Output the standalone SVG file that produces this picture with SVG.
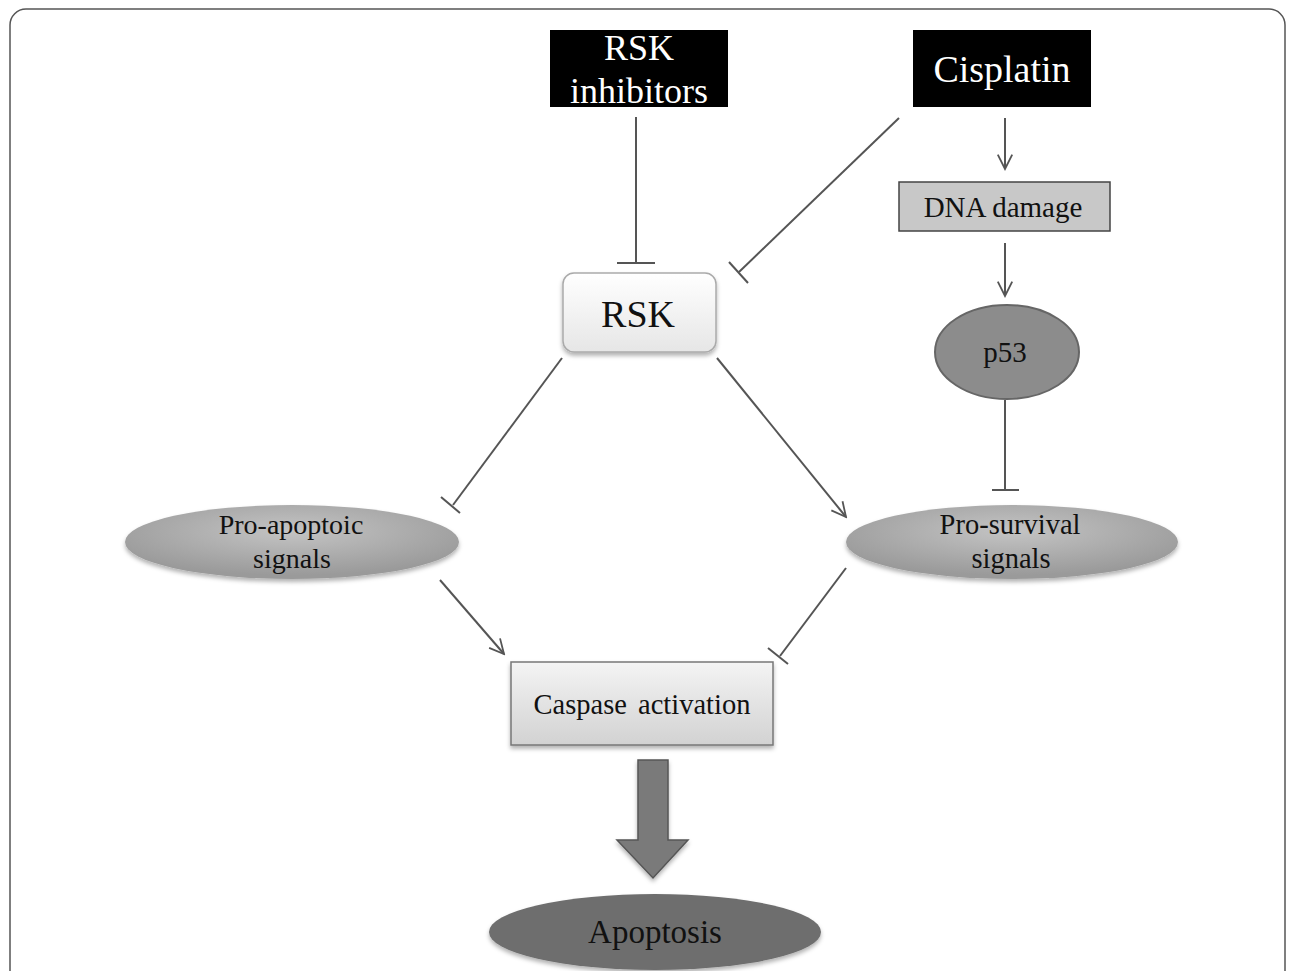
<svg xmlns="http://www.w3.org/2000/svg" width="1295" height="971" viewBox="0 0 1295 971">
<style>
.lbl{font-family:"Liberation Serif","Times New Roman",serif;fill:#111;text-anchor:middle}
.wlbl{font-family:"Liberation Serif","Times New Roman",serif;fill:#fff;text-anchor:middle}
.ln{stroke:#555;stroke-width:2;fill:none}
</style>
<defs>
<linearGradient id="gRsk" x1="0" y1="0" x2="0" y2="1"><stop offset="0" stop-color="#ffffff"/><stop offset="1" stop-color="#e6e6e6"/></linearGradient>
<linearGradient id="gCas" x1="0" y1="0" x2="0" y2="1"><stop offset="0" stop-color="#f4f4f4"/><stop offset="1" stop-color="#d2d2d2"/></linearGradient>
<radialGradient id="gEll" cx="0.5" cy="0.35" r="0.6"><stop offset="0" stop-color="#c4c4c4"/><stop offset="1" stop-color="#9a9a9a"/></radialGradient>
<filter id="sh" x="-10%" y="-20%" width="120%" height="150%"><feDropShadow dx="0" dy="3" stdDeviation="2" flood-color="#000" flood-opacity="0.3"/></filter>
<marker id="arr" viewBox="0 0 20 20" refX="18" refY="10" markerWidth="18" markerHeight="18" markerUnits="userSpaceOnUse" orient="auto"><path d="M2,2 L18,10 L2,18" fill="none" stroke="#555" stroke-width="2"/></marker>
</defs>
<rect x="10" y="9" width="1275" height="990" rx="16" fill="#fff" stroke="#555" stroke-width="1.5"/>

<g id="connectors">
<line class="ln" x1="636" y1="117" x2="636" y2="263"/>
<line class="ln" x1="617" y1="263" x2="655" y2="263"/>
<line class="ln" x1="899" y1="118" x2="739" y2="272"/>
<line class="ln" x1="729" y1="262" x2="748" y2="283"/>
<line class="ln" x1="1005" y1="118" x2="1005" y2="169" marker-end="url(#arr)"/>
<line class="ln" x1="1005" y1="243" x2="1005" y2="296" marker-end="url(#arr)"/>
<line class="ln" x1="1005" y1="400" x2="1005" y2="490"/>
<line class="ln" x1="992" y1="490" x2="1019" y2="490"/>
<line class="ln" x1="562" y1="358" x2="453" y2="505"/>
<line class="ln" x1="441" y1="497" x2="460" y2="513"/>
<line class="ln" x1="717" y1="358" x2="846" y2="517" marker-end="url(#arr)"/>
<line class="ln" x1="440" y1="580" x2="504" y2="654" marker-end="url(#arr)"/>
<line class="ln" x1="846" y1="568" x2="780" y2="656"/>
<line class="ln" x1="768" y1="648" x2="788" y2="664"/>
<path d="M638,760 L668,760 L668,840 L688,840 L653,878 L617,840 L638,840 Z" fill="#7a7a7a" stroke="#555" stroke-width="1.5" filter="url(#sh)"/>
</g>

<g id="rsk_inhibitors">
<rect x="550" y="30" width="178" height="77" fill="#000"/>
<text class="wlbl" x="639" y="60" font-size="36">RSK</text>
<text class="wlbl" x="639" y="103" font-size="36">inhibitors</text>
</g>
<g id="cisplatin">
<rect x="913" y="30" width="178" height="77" fill="#000"/>
<text class="wlbl" x="1002" y="82" font-size="38">Cisplatin</text>
</g>
<g id="dna_damage">
<rect x="899" y="182" width="211" height="49" fill="#c8c8c8" stroke="#444" stroke-width="1.5"/>
<text class="lbl" x="1003" y="217" font-size="29">DNA damage</text>
</g>
<g id="rsk">
<rect x="563" y="273" width="153" height="79" rx="11" fill="url(#gRsk)" stroke="#aaa" stroke-width="1.5" filter="url(#sh)"/>
<text class="lbl" x="638" y="327" font-size="38">RSK</text>
</g>
<g id="p53">
<ellipse cx="1007" cy="352" rx="72" ry="47" fill="#8c8c8c" stroke="#666" stroke-width="2"/>
<text class="lbl" x="1005" y="362" font-size="29">p53</text>
</g>
<g id="pro_apoptotic">
<ellipse cx="292" cy="542" rx="167" ry="37" fill="url(#gEll)" filter="url(#sh)"/>
<text class="lbl" x="291" y="534" font-size="28">Pro-apoptoic</text>
<text class="lbl" x="292" y="568" font-size="28">signals</text>
</g>
<g id="pro_survival">
<ellipse cx="1012" cy="542" rx="166" ry="37" fill="url(#gEll)" filter="url(#sh)"/>
<text class="lbl" x="1010" y="534" font-size="28.5">Pro-survival</text>
<text class="lbl" x="1011" y="568" font-size="28.5">signals</text>
</g>
<g id="caspase">
<rect x="511" y="662" width="262" height="83" fill="url(#gCas)" stroke="#777" stroke-width="1.5" filter="url(#sh)"/>
<text class="lbl" x="642" y="714" font-size="28.5" word-spacing="4">Caspase activation</text>
</g>
<g id="apoptosis">
<ellipse cx="655" cy="932" rx="166" ry="38" fill="#6e6e6e" filter="url(#sh)"/>
<text class="lbl" x="655" y="943" font-size="33">Apoptosis</text>
</g>
</svg>
